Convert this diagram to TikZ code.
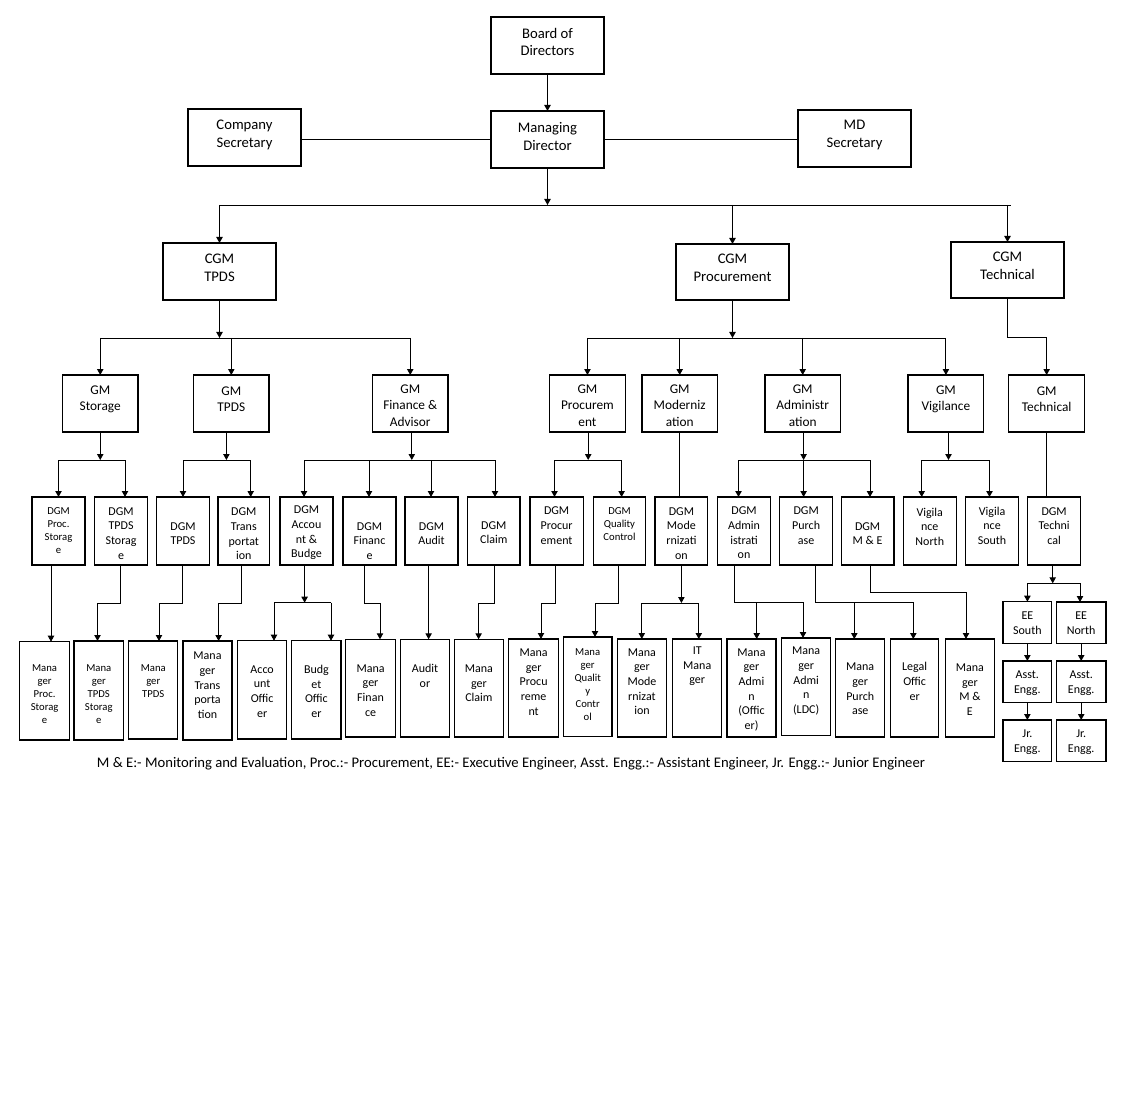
\documentclass[tikz,border=0pt]{standalone}
\usepackage{fontspec}
\setmainfont{Carlito}
\usetikzlibrary{arrows.meta,calc}
\newcommand\ftop{\fontsize{11}{13.4}\selectfont}
\newcommand\fgmx{\fontsize{10}{12.2}\selectfont}
\newcommand\fdgm{\fontsize{9}{11}\selectfont}
\newcommand\fsml{\fontsize{8}{9.8}\selectfont}
\newcommand\ob[8]{%
  \node[obox, minimum width={(#4-#2)*0.75pt}, minimum height={(#5-#3)*0.75pt}] (#1) at ({(#2+#4)/2},{(#3+#5)/2}) {};
  \node[otext, font=#7] (#1t) at ({(#2+#4)/2},{#6+1}) {#8};}
\tikzset{
  obox/.style={draw, line width=0.8pt, inner sep=0pt, outer sep=0pt},
  otext/.style={align=center, inner sep=0pt},
  ln/.style={line width=0.7pt},
  arr/.style={-{Triangle[length=4.5pt,width=4.8pt]}}
}
\begin{document}
\begin{tikzpicture}[x=0.75pt,y=-0.75pt]
\useasboundingbox (0,0) rectangle (1121,1116);
% ---------- top
\ob{bod}{491}{17}{604}{74}{41}{\ftop}{Board of\\Directors}
\ob{cs}{188}{109}{301}{166}{133.5}{\ftop}{Company\\Secretary}
\ob{md}{491}{111}{604}{168}{135.5}{\ftop}{Managing\\Director}
\ob{mds}{798}{110}{911}{167}{134}{\ftop}{MD\\Secretary}
\ob{cgmt}{163}{243}{276}{300}{267}{\ftop}{CGM\\TPDS}
\ob{cgmp}{676}{244}{789}{300}{267}{\ftop}{CGM\\Procurement}
\ob{cgmtech}{951}{242}{1064}{298}{265}{\ftop}{CGM\\Technical}
% ---------- GM row
\ob{gms}{62.5}{375}{138}{432}{398}{\fgmx}{GM\\Storage}
\ob{gmt}{193.6}{375}{269}{432}{398}{\fgmx}{GM\\TPDS}
\ob{gmf}{372.5}{375}{448}{432}{404.5}{\fgmx}{GM\\Finance \&\\Advisor}
\ob{gmp}{549.5}{375}{625.4}{432}{404.5}{\fgmx}{GM\\Procurem\\ent}
\ob{gmm}{642}{375}{717.4}{432}{404.5}{\fgmx}{GM\\Moderniz\\ation}
\ob{gma}{765}{375}{840.4}{432}{404.5}{\fgmx}{GM\\Administr\\ation}
\ob{gmv}{908}{375}{983.8}{432}{398}{\fgmx}{GM\\Vigilance}
\ob{gmtech}{1008.7}{375}{1084.6}{432}{398}{\fgmx}{GM\\Technical}
% ---------- DGM row
\ob{d1}{32}{497}{85}{565}{529.5}{\fsml}{DGM\\Proc.\\Storag\\e}
\ob{d2}{94.6}{497}{147.5}{565}{532.3}{\fdgm}{DGM\\TPDS\\Storag\\e}
\ob{d3}{156.4}{497}{209.6}{565}{532.5}{\fdgm}{DGM\\TPDS}
\ob{d4}{218}{497}{269.6}{565}{533}{\fdgm}{DGM\\Trans\\portat\\ion}
\ob{d5}{280}{497}{333}{565}{532}{\fdgm}{DGM\\Accou\\nt \&\\Budge}
\ob{d6}{343}{497}{396}{565}{540}{\fdgm}{DGM\\Financ\\e}
\ob{d7}{405}{497}{458}{565}{532.5}{\fdgm}{DGM\\Audit}
\ob{d8}{467.5}{497}{520}{565}{531.8}{\fdgm}{DGM\\Claim}
\ob{d9}{530}{497}{583.2}{565}{524.8}{\fdgm}{DGM\\Procur\\ement}
\ob{d10}{593.2}{497}{645.7}{565}{522.7}{\fsml}{DGM\\Quality\\Control}
\ob{d11}{655}{497}{707.8}{565}{532.3}{\fdgm}{DGM\\Mode\\rnizati\\on}
\ob{d12}{717.8}{497}{770.3}{565}{532}{\fdgm}{DGM\\Admin\\istrati\\on}
\ob{d13}{779.9}{497}{832.4}{565}{524.8}{\fdgm}{DGM\\Purch\\ase}
\ob{d14}{841.2}{497}{894}{565}{532.5}{\fdgm}{DGM\\M \& E}
\ob{d15}{903.3}{497}{956.2}{565}{525.8}{\fdgm}{Vigila\\nce\\North}
\ob{d16}{965.8}{497}{1018.3}{565}{524.8}{\fdgm}{Vigila\\nce\\South}
\ob{d17}{1027.8}{497}{1080.4}{565}{525}{\fdgm}{DGM\\Techni\\cal}
% ---------- manager row
\ob{m1}{19.6}{641.7}{69.6}{740}{693}{\fsml}{Mana\\ger\\Proc.\\Storag\\e}
\ob{m2}{74}{641}{123.6}{740}{693}{\fsml}{Mana\\ger\\TPDS\\Storag\\e}
\ob{m3}{128.6}{641}{177.9}{739}{679.7}{\fsml}{Mana\\ger\\TPDS}
\ob{m4}{183}{641}{232}{740}{684.2}{\fdgm}{Mana\\ger\\Trans\\porta\\tion}
\ob{m5}{237.5}{640.7}{286.8}{739}{690.3}{\fdgm}{Acco\\unt\\Offic\\er}
\ob{m6}{291.8}{640.7}{341}{739}{690.3}{\fdgm}{Budg\\et\\Offic\\er}
\ob{m7}{345.7}{639.3}{395.4}{737}{689.3}{\fdgm}{Mana\\ger\\Finan\\ce}
\ob{m8}{400.4}{639.3}{449.6}{737}{674.8}{\fdgm}{Audit\\or}
\ob{m9}{454.3}{639.3}{503.6}{737}{682.2}{\fdgm}{Mana\\ger\\Claim}
\ob{m10}{508.7}{639}{558.6}{737}{681}{\fdgm}{Mana\\ger\\Procu\\reme\\nt}
\ob{m11}{563.4}{637}{612}{736.7}{683.3}{\fsml}{Mana\\ger\\Qualit\\y\\Contr\\ol}
\ob{m12}{617.6}{639}{666.3}{737}{680.8}{\fdgm}{Mana\\ger\\Mode\\rnizat\\ion}
\ob{m13}{672.7}{639}{721.8}{737}{665.3}{\fdgm}{IT\\Mana\\ger}
\ob{m14}{727}{639}{776}{737}{688.7}{\fdgm}{Mana\\ger\\Admi\\n\\(Offic\\er)}
\ob{m15}{781.6}{638}{830.7}{735.7}{680.3}{\fdgm}{Mana\\ger\\Admi\\n\\(LDC)}
\ob{m16}{835.8}{639}{884.6}{737}{688}{\fdgm}{Mana\\ger\\Purch\\ase}
\ob{m17}{890.5}{639}{938.8}{737}{680.5}{\fdgm}{Legal\\Offic\\er}
\ob{m18}{945.5}{639}{994.3}{737}{688.7}{\fdgm}{Mana\\ger\\M \&\\E}
% ---------- technical column
\ob{ees}{1003}{601.7}{1051.7}{643.3}{622}{\fdgm}{EE\\South}
\ob{een}{1056.4}{602}{1106}{643.3}{622}{\fdgm}{EE\\North}
\ob{aes}{1003}{661}{1051.7}{702.7}{682.5}{\fdgm}{Asst.\\Engg.}
\ob{aen}{1056.4}{661}{1106}{702.7}{682.5}{\fdgm}{Asst.\\Engg.}
\ob{jes}{1003}{720}{1051.7}{761.7}{741}{\fdgm}{Jr.\\Engg.}
\ob{jen}{1056.4}{720}{1106}{761.7}{741}{\fdgm}{Jr.\\Engg.}
% ---------- caption
\node[font=\fontsize{11}{13.2}\selectfont, inner sep=0pt] (cap) at (511,764)
  {M \& E:- Monitoring and Evaluation, Proc.:- Procurement, EE:- Executive Engineer, Asst. Engg.:- Assistant Engineer, Jr. Engg.:- Junior Engineer};
% ================= connectors
\draw[ln,arr] (bod) -- (md);
\draw[ln] (md.west) -- (md.west -| cs.east);
\draw[ln] (md.east) -- (md.east -| mds.west);
\coordinate (b0) at (547.5,205);
\coordinate (b0r) at (1011,205);
\draw[ln,arr] (md.south) -- (b0);
\draw[ln] (cgmt.north |- b0) -- (b0r);
\foreach \n in {cgmt,cgmp,cgmtech} \draw[ln,arr] (\n.north |- b0) -- (\n.north);
% CGM TPDS
\coordinate (b1) at (219.5,338);
\draw[ln,arr] (cgmt.south) -- (b1);
\draw[ln] (gms.north |- b1) -- (gmf.north |- b1);
\foreach \n in {gms,gmt,gmf} \draw[ln,arr] (\n.north |- b1) -- (\n.north);
% CGM Procurement
\coordinate (b2) at (732.5,338);
\draw[ln,arr] (cgmp.south) -- (b2);
\draw[ln] (gmp.north |- b2) -- (gmv.north |- b2);
\foreach \n in {gmp,gmm,gma,gmv} \draw[ln,arr] (\n.north |- b2) -- (\n.north);
% CGM Technical
\coordinate (b3) at (1046.65,337);
\draw[ln,arr] (cgmtech.south) |- (b3) -- (gmtech.north);
% GM Storage fork
\coordinate (s1) at (100.25,460);
\coordinate (s1a) at (58.5,460);
\coordinate (s1b) at (125,460);
\draw[ln,arr] (gms.south) -- (s1);
\draw[ln] (s1a) -- (s1b);
\draw[ln,arr] (s1a) -- (s1a |- d1.north);
\draw[ln,arr] (s1b) -- (s1b |- d2.north);
% GM TPDS fork
\coordinate (s2) at (226.4,460);
\coordinate (s2a) at (183,460);
\coordinate (s2b) at (250.7,460);
\draw[ln,arr] (s2 |- gmt.south) -- (s2);
\draw[ln] (s2a) -- (s2b);
\draw[ln,arr] (s2a) -- (s2a |- d3.north);
\draw[ln,arr] (s2b) -- (s2b |- d4.north);
% GM Finance fork
\coordinate (s3) at (411.8,460);
\coordinate (s3a) at (304,460);
\coordinate (s3b) at (369,460);
\coordinate (s3c) at (431,460);
\coordinate (s3d) at (495,460);
\draw[ln,arr] (s3 |- gmf.south) -- (s3);
\draw[ln] (s3a) -- (s3d);
\draw[ln,arr] (s3a) -- (s3a |- d5.north);
\draw[ln,arr] (s3b) -- (s3b |- d6.north);
\draw[ln,arr] (s3c) -- (s3c |- d7.north);
\draw[ln,arr] (s3d) -- (s3d |- d8.north);
% GM Procurement fork
\coordinate (s4) at (588.2,460);
\coordinate (s4a) at (554.5,460);
\coordinate (s4b) at (621.6,460);
\draw[ln,arr] (s4 |- gmp.south) -- (s4);
\draw[ln] (s4a) -- (s4b);
\draw[ln,arr] (s4a) -- (s4a |- d9.north);
\draw[ln,arr] (s4b) -- (s4b |- d10.north);
% GM Modernization
\draw[ln] (gmm.south) -- (gmm.south |- d11.north);
% GM Administration fork
\coordinate (s5) at (803.6,460);
\coordinate (s5a) at (738.5,460);
\coordinate (s5c) at (870,460);
\draw[ln,arr] (s5 |- gma.south) -- (s5);
\draw[ln] (s5a) -- (s5c);
\draw[ln,arr] (s5a) -- (s5a |- d12.north);
\draw[ln,arr] (s5) -- (s5 |- d13.north);
\draw[ln,arr] (s5c) -- (s5c |- d14.north);
% GM Vigilance fork
\coordinate (s6) at (948.5,460);
\coordinate (s6a) at (921.7,460);
\coordinate (s6b) at (989.5,460);
\draw[ln,arr] (s6 |- gmv.south) -- (s6);
\draw[ln] (s6a) -- (s6b);
\draw[ln,arr] (s6a) -- (s6a |- d15.north);
\draw[ln,arr] (s6b) -- (s6b |- d16.north);
% GM Technical
\draw[ln] (gmtech.south) -- (gmtech.south |- d17.north);
% ---------- DGM to managers
\coordinate (t1) at (51,603);
\draw[ln,arr] (t1 |- d1.south) -- (t1 |- m1.north);
\coordinate (u2) at (120.7,603); \coordinate (v2) at (97.5,603);
\draw[ln,arr] (u2 |- d2.south) -- (u2) -- (v2) -- (v2 |- m2.north);
\coordinate (u3) at (182,603); \coordinate (v3) at (159,603);
\draw[ln,arr] (u3 |- d3.south) -- (u3) -- (v3) -- (v3 |- m3.north);
\coordinate (u4) at (241.8,603); \coordinate (v4) at (218.6,603);
\draw[ln,arr] (u4 |- d4.south) -- (u4) -- (v4) -- (v4 |- m4.north);
\coordinate (u5) at (304.6,602.7); \coordinate (u5a) at (274,602.7); \coordinate (u5b) at (331,602.7);
\draw[ln,arr] (u5 |- d5.south) -- (u5);
\draw[ln] (u5a) -- (u5b);
\draw[ln,arr] (u5a) -- (u5a |- m5.north);
\draw[ln,arr] (u5b) -- (u5b |- m6.north);
\coordinate (u6) at (364.6,603); \coordinate (v6) at (380,603);
\draw[ln,arr] (u6 |- d6.south) -- (u6) -- (v6) -- (v6 |- m7.north);
\coordinate (t7) at (428.6,603);
\draw[ln,arr] (t7 |- d7.south) -- (t7 |- m8.north);
\coordinate (u8) at (494,603); \coordinate (v8) at (478.6,603);
\draw[ln,arr] (u8 |- d8.south) -- (u8) -- (v8) -- (v8 |- m9.north);
\coordinate (u9) at (555,603); \coordinate (v9) at (541,603);
\draw[ln,arr] (u9 |- d9.south) -- (u9) -- (v9) -- (v9 |- m10.north);
\coordinate (u10) at (618,603); \coordinate (v10) at (595,603);
\draw[ln,arr] (u10 |- d10.south) -- (u10) -- (v10) -- (v10 |- m11.north);
\coordinate (u11) at (681.4,603); \coordinate (u11a) at (641.8,603); \coordinate (u11b) at (698.8,603);
\draw[ln,arr] (u11 |- d11.south) -- (u11);
\draw[ln] (u11a) -- (u11b);
\draw[ln,arr] (u11a) -- (u11a |- m12.north);
\draw[ln,arr] (u11b) -- (u11b |- m13.north);
\coordinate (u12) at (734.9,602.3); \coordinate (u12a) at (756.7,602.3); \coordinate (u12b) at (803,602.3);
\draw[ln] (u12 |- d12.south) -- (u12) -- (u12b);
\draw[ln,arr] (u12a) -- (u12a |- m14.north);
\draw[ln,arr] (u12b) -- (u12b |- m15.north);
\coordinate (u13) at (815.7,602.3); \coordinate (u13a) at (854.3,602.3); \coordinate (u13b) at (913.3,602.3);
\draw[ln] (u13 |- d13.south) -- (u13) -- (u13b);
\draw[ln,arr] (u13a) -- (u13a |- m16.north);
\draw[ln,arr] (u13b) -- (u13b |- m17.north);
\coordinate (u14) at (870.3,592.3); \coordinate (v14) at (966,592.3);
\draw[ln,arr] (u14 |- d14.south) -- (u14) -- (v14) -- (v14 |- m18.north);
% DGM Technical fork
\coordinate (u17) at (1052.7,583.3); \coordinate (u17a) at (1027.4,583.3); \coordinate (u17b) at (1080,583.3);
\draw[ln,arr] (u17 |- d17.south) -- (u17);
\draw[ln] (u17a) -- (u17b);
\draw[ln,arr] (u17a) -- (u17a |- ees.north);
\draw[ln,arr] (u17b) -- (u17b |- een.north);
\draw[ln,arr] (ees) -- (aes);
\draw[ln,arr] (een) -- (aen);
\draw[ln,arr] (aes) -- (jes);
\draw[ln,arr] (aen) -- (jen);
\end{tikzpicture}
\end{document}
